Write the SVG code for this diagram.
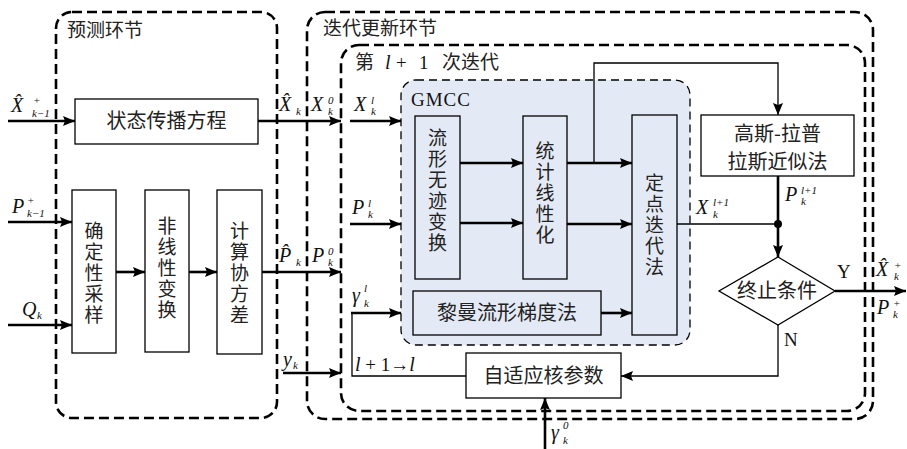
<svg xmlns="http://www.w3.org/2000/svg" width="907" height="449" viewBox="0 0 907 449">
<style>
.bg{fill:#ffffff}
.dash{fill:none;stroke:#000;stroke-width:2.6;stroke-dasharray:10,5}
.gm{fill:#e4eaf5;stroke:#000;stroke-width:1.3;stroke-dasharray:8,5}
.box{fill:none;stroke:#000;stroke-width:1.3}
.thk{fill:none;stroke:#000;stroke-width:2.6}
.thn{fill:none;stroke:#000;stroke-width:1.3}
.cn{font-family:"Noto Sans CJK SC","Noto Sans",sans-serif;font-size:20px;fill:#222}
.vt{font-family:"Noto Sans CJK SC","Noto Sans",sans-serif;font-size:19px;fill:#222;writing-mode:vertical-rl;text-anchor:middle;letter-spacing:2px}
.sec{font-family:"Noto Sans CJK SC","Noto Sans",sans-serif;font-size:19px;fill:#222}
.m{font-family:"Liberation Serif",serif;font-style:italic;font-size:20px;fill:#111}
.r{font-family:"Liberation Serif",serif;font-size:19px;fill:#111}
.s{font-size:11px}
</style>
<defs>
<marker id="ah" markerUnits="userSpaceOnUse" markerWidth="13" markerHeight="10" refX="12" refY="5" orient="auto">
<path d="M0,0 L12,5 L0,10 L2,5 z" fill="#000"/>
</marker>
</defs>
<rect class="bg" x="0" y="0" width="907" height="449"/>

<g id="pred-frame">
<rect class="dash" x="56" y="12" width="221" height="406" rx="16"/>
<text class="sec" x="67" y="37">预测环节</text>
</g>
<g id="iter-frame">
<rect class="dash" x="307" y="12" width="566" height="407" rx="18"/>
<text class="sec" x="323" y="35">迭代更新环节</text>
</g>
<g id="loop-frame">
<rect class="dash" x="341" y="45" width="524" height="366" rx="18"/>
<text class="sec" x="355" y="69">第</text>
<text class="m" x="385" y="69" font-size="19px">l</text>
<text class="r" x="396" y="69">+</text>
<text class="r" x="419" y="69">1</text>
<text class="sec" x="442" y="69">次迭代</text>
</g>
<g id="gmcc">
<rect class="gm" x="401" y="80" width="289" height="265" rx="15"/>
<text class="r" x="411" y="106" font-size="20px" letter-spacing="1">GMCC</text>
</g>

<g id="n-state">
<rect class="box" x="75" y="99" width="183" height="45"/>
<text class="cn" x="166.5" y="128" font-size="21px" text-anchor="middle">状态传播方程</text>
</g>
<g id="n-sample">
<rect class="box" x="72" y="190" width="44" height="163"/>
<text class="vt" x="94" y="274">确定性采样</text>
</g>
<g id="n-nonlin">
<rect class="box" x="145" y="190" width="44" height="162"/>
<text class="vt" x="167" y="269">非线性变换</text>
</g>
<g id="n-cov">
<rect class="box" x="217" y="190" width="45" height="164"/>
<text class="vt" x="239.5" y="274">计算协方差</text>
</g>
<g id="n-mut">
<rect class="box" x="415" y="116" width="45" height="163"/>
<text class="vt" x="437.5" y="191">流形无迹变换</text>
</g>
<g id="n-slr">
<rect class="box" x="523" y="116" width="44" height="163"/>
<text class="vt" x="545" y="194">统计线性化</text>
</g>
<g id="n-fixed">
<rect class="box" x="632" y="115" width="45" height="220"/>
<text class="vt" x="654.5" y="226">定点迭代法</text>
</g>
<g id="n-riem">
<rect class="box" x="413" y="291" width="188" height="44"/>
<text class="cn" x="507" y="320" font-size="21px" text-anchor="middle">黎曼流形梯度法</text>
</g>
<g id="n-laplace">
<rect class="box" x="701" y="115" width="153" height="61"/>
<text class="cn" x="777.5" y="141" font-size="21px" text-anchor="middle">高斯-拉普</text>
<text class="cn" x="777.5" y="169" font-size="21px" text-anchor="middle">拉斯近似法</text>
</g>
<g id="n-stop">
<polygon class="box" points="778,257 835,291 778,325 719,291"/>
<text class="cn" x="777" y="298" font-size="21px" text-anchor="middle">终止条件</text>
</g>
<g id="n-adapt">
<rect class="box" x="466" y="353" width="155" height="45"/>
<text class="cn" x="543.5" y="383" font-size="21px" text-anchor="middle">自适应核参数</text>
</g>

<g id="connectors">
<line class="thk" x1="8" y1="121" x2="75" y2="121" marker-end="url(#ah)"/>
<line class="thk" x1="8" y1="222" x2="72" y2="222" marker-end="url(#ah)"/>
<line class="thk" x1="8" y1="325" x2="72" y2="325" marker-end="url(#ah)"/>
<line class="thk" x1="116" y1="272" x2="145" y2="272" marker-end="url(#ah)"/>
<line class="thk" x1="189" y1="272" x2="217" y2="272" marker-end="url(#ah)"/>
<line class="thk" x1="258" y1="121" x2="341" y2="121" marker-end="url(#ah)"/>
<line class="thk" x1="262" y1="272" x2="341" y2="272" marker-end="url(#ah)"/>
<line class="thk" x1="283" y1="373" x2="341" y2="373" marker-end="url(#ah)"/>
<line class="thk" x1="350" y1="121" x2="401" y2="121" marker-end="url(#ah)"/>
<line class="thk" x1="350" y1="224" x2="401" y2="224" marker-end="url(#ah)"/>
<polyline class="thn" points="466,376 352,376 352,313"/>
<line class="thk" x1="351" y1="313" x2="401" y2="313" marker-end="url(#ah)"/>
<line class="thk" x1="460" y1="163" x2="523" y2="163" marker-end="url(#ah)"/>
<line class="thk" x1="460" y1="223" x2="523" y2="223" marker-end="url(#ah)"/>
<line class="thk" x1="567" y1="163" x2="632" y2="163" marker-end="url(#ah)"/>
<line class="thk" x1="567" y1="224" x2="632" y2="224" marker-end="url(#ah)"/>
<polyline class="thn" points="594,163 594,63 778,63 778,115" marker-end="url(#ah)"/>
<line class="thk" x1="601" y1="313" x2="632" y2="313" marker-end="url(#ah)"/>
<line class="thn" x1="677" y1="224" x2="778" y2="224"/>
<circle cx="778" cy="224" r="4" fill="#000"/>
<line class="thk" x1="778" y1="176" x2="778" y2="257" marker-end="url(#ah)"/>
<line class="thk" x1="835" y1="291" x2="906" y2="291" marker-end="url(#ah)"/>
<polyline class="thn" points="778,325 778,376 621,376" stroke-width="1.6" marker-end="url(#ah)"/>
<line class="thk" x1="545" y1="449" x2="545" y2="398" marker-end="url(#ah)"/>
</g>

<g id="labels">
<text class="m" x="11" y="112">X̂<tspan class="s" x="33" y="104">+</tspan><tspan class="s" x="32" y="117">k−1</tspan></text>
<text class="m" x="12" y="213">P<tspan class="s" x="27" y="204">+</tspan><tspan class="s" x="27" y="217">k−1</tspan></text>
<text class="m" x="22" y="316">Q<tspan class="s" x="37" y="319">k</tspan></text>
<text class="m" x="279" y="111">X̂<tspan class="s" x="296" y="115">k</tspan></text>
<text class="m" x="311" y="111">X<tspan class="s" x="328" y="104">0</tspan><tspan class="s" x="328" y="115">k</tspan></text>
<text class="m" x="354" y="111">X<tspan class="s" x="371" y="104">l</tspan><tspan class="s" x="371" y="115">k</tspan></text>
<text class="m" x="279" y="262">P̂<tspan class="s" x="296" y="266">k</tspan></text>
<text class="m" x="312" y="262">P<tspan class="s" x="328" y="255">0</tspan><tspan class="s" x="328" y="266">k</tspan></text>
<text class="m" x="352" y="214">P<tspan class="s" x="368" y="207">l</tspan><tspan class="s" x="368" y="218">k</tspan></text>
<text class="m" x="352" y="302">γ<tspan class="s" x="364" y="292">l</tspan><tspan class="s" x="364" y="307">k</tspan></text>
<text class="m" x="283" y="366">y<tspan class="s" x="293" y="369">k</tspan></text>
<text class="m" x="355" y="371">l<tspan class="r" font-style="normal"> + 1→</tspan>l</text>
<text class="m" x="696" y="214">X<tspan class="s" x="713" y="206">l+1</tspan><tspan class="s" x="713" y="218">k</tspan></text>
<text class="m" x="785" y="201">P<tspan class="s" x="801" y="194">l+1</tspan><tspan class="s" x="801" y="205">k</tspan></text>
<text class="r" x="837" y="278">Y</text>
<text class="r" x="784" y="346">N</text>
<text class="m" x="876" y="276">X̂<tspan class="s" x="894" y="269">+</tspan><tspan class="s" x="894" y="280">k</tspan></text>
<text class="m" x="877" y="314">P<tspan class="s" x="893" y="307">+</tspan><tspan class="s" x="893" y="318">k</tspan></text>
<text class="m" x="551" y="439">γ<tspan class="s" x="563" y="429">0</tspan><tspan class="s" x="563" y="444">k</tspan></text>
</g>
</svg>
